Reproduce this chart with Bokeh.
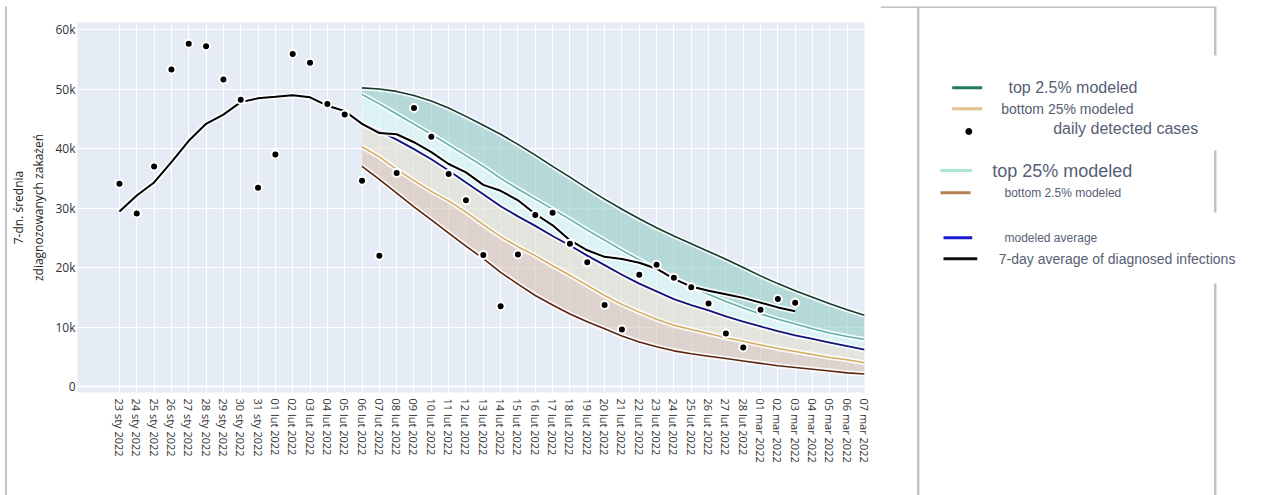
import math
from bokeh.plotting import figure
from bokeh.models import Range1d, FixedTicker, Span
from bokeh.layouts import row, column
from bokeh.embed import file_html
from bokeh.resources import INLINE
from bokeh.core.properties import value

# ---------------- data ----------------
date_labels = (
    [f"{d:02d} sty 2022" for d in range(23, 32)]
    + [f"{d:02d} lut 2022" for d in range(1, 29)]
    + [f"{d:02d} mar 2022" for d in range(1, 8)]
)

# daily detected cases, 23 sty – 03 mar
daily_cases = [34100, 29100, 37000, 53300, 57600, 57200, 51600, 48200, 33400,
               39000, 55900, 54400, 47500, 45700, 34600, 22000, 35900, 46800,
               42000, 35700, 31300, 22100, 13500, 22200, 28850, 29200, 24000,
               20900, 13700, 9600, 18800, 20450, 18300, 16700, 13950, 8900,
               6550, 12900, 14700, 14070]

# 7-day average of diagnosed infections, 23 sty – 03 mar
avg7 = [29400, 32100, 34300, 37700, 41300, 44150, 45700, 47800, 48450,
        48700, 48960, 48600, 47200, 46300, 44150, 42600, 42400, 41060,
        39400, 37400, 36000, 33900, 32900, 31300, 29000, 27100, 24600,
        22900, 21800, 21450, 20800, 19800, 18100, 16800, 16100, 15500,
        14900, 14100, 13300, 12650]

# modeled series, 06 lut – 07 mar
model_start_label = "06 lut 2022"
top_2_5 = [50200, 50000, 49600, 48900, 48000, 46800, 45400, 43900, 42400, 40700,
           38900, 37000, 35200, 33300, 31500, 29800, 28200, 26700, 25300, 24000,
           22700, 21400, 20000, 18600, 17300, 16100, 15000, 13900, 12900, 12000]
top_25 = [49100, 47500, 45800, 44100, 42400, 40600, 38800, 37000, 35000, 33200,
          31500, 29800, 28100, 26300, 24600, 22900, 21300, 19700, 18200, 16800,
          15500, 14300, 13200, 12200, 11300, 10500, 9700, 9000, 8400, 7900]
model_avg = [44200, 42900, 41500, 39900, 38200, 36300, 34300, 32300, 30300, 28600,
             27000, 25300, 23700, 22000, 20400, 18800, 17300, 16000, 14700, 13700,
             12800, 11800, 10900, 10100, 9300, 8600, 8000, 7400, 6800, 6200]
bottom_25 = [40300, 38600, 36500, 34600, 32800, 31200, 29300, 27200, 25200, 23500,
             22000, 20300, 18700, 17000, 15300, 13800, 12500, 11300, 10300, 9600,
             8900, 8200, 7600, 7000, 6400, 5900, 5400, 4900, 4500, 4000]
bottom_2_5 = [37000, 34800, 32500, 30200, 28000, 25800, 23600, 21500, 19200, 17200,
              15300, 13700, 12200, 10900, 9700, 8500, 7500, 6700, 6000, 5500,
              5100, 4700, 4300, 3900, 3500, 3200, 2900, 2600, 2300, 2100]

y_ticks = [0, 10000, 20000, 30000, 40000, 50000, 60000]
y_tick_labels = ["0", "10k", "20k", "30k", "40k", "50k", "60k"]

legend_labels = ["top 2.5% modeled", "bottom 25% modeled", "daily detected cases",
                 "top 25% modeled", "bottom 2.5% modeled", "modeled average",
                 "7-day average of diagnosed infections"]

FRAME_GRAY = "#c2c2c2"


def blank(w, h):
    f = figure(width=w, height=h, output_backend="svg", toolbar_location=None,
               x_range=Range1d(0, w), y_range=Range1d(h, 0),
               min_border=0, min_border_left=0, min_border_right=0,
               min_border_top=0, min_border_bottom=0)
    f.axis.visible = False
    f.grid.visible = False
    f.outline_line_color = None
    f.background_fill_color = "white"
    f.border_fill_color = "white"
    return f


# ---------------- border strips ----------------
left_strip = blank(7, 495)
left_strip.segment(x0=[5.5], y0=[6], x1=[5.5], y1=[495],
                   line_color=FRAME_GRAY, line_width=2)
top_strip = blank(873, 8)
top_strip.segment(x0=[0], y0=[6.5], x1=[873], y1=[6.5],
                  line_color=FRAME_GRAY, line_width=1.5)

# ---------------- main chart ----------------
x_obs = list(range(len(daily_cases)))
m0 = date_labels.index(model_start_label)
x_mod = [m0 + i for i in range(len(model_avg))]

p = figure(width=873, height=487, output_backend="svg", toolbar_location=None,
           x_range=Range1d(-2.42, len(date_labels) - 1),
           y_range=Range1d(-1000, 61180),
           min_border_left=70, min_border_right=16, min_border_top=14,
           min_border_bottom=103)
p.background_fill_color = "#e5ecf6"
p.border_fill_color = "white"
p.outline_line_color = None

# bands
p.varea(x=x_mod, y1=top_25, y2=top_2_5, fill_color="#95ccc4", fill_alpha=0.6)
p.varea(x=x_mod, y1=model_avg, y2=top_25, fill_color="#d6f6f3", fill_alpha=0.6)
p.varea(x=x_mod, y1=bottom_25, y2=model_avg, fill_color="#e3e0ce", fill_alpha=0.6)
p.varea(x=x_mod, y1=bottom_2_5, y2=bottom_25, fill_color="#d7c2b2", fill_alpha=0.6)


def halo_line(x, y, color, w):
    p.line(x, y, line_color="white", line_width=w + 3.5, line_alpha=0.85)
    p.line(x, y, line_color=color, line_width=w)


halo_line(x_mod, top_2_5, "#15392d", 1.6)
halo_line(x_mod, top_25, "#5fb0a6", 1.5)
halo_line(x_mod, bottom_2_5, "#5a240e", 1.6)
halo_line(x_mod, bottom_25, "#d2ad62", 1.5)
halo_line(x_mod, model_avg, "#12127a", 1.8)
halo_line(x_obs, avg7, "#000000", 2.0)

p.scatter(x_obs, daily_cases, size=8, fill_color="black", line_color="white",
          line_width=2)

p.add_layout(Span(location=0, dimension="width", line_color="white", line_width=2))

# axes
p.xaxis.ticker = FixedTicker(ticks=list(range(len(date_labels))))
p.xaxis.major_label_overrides = {i: lab for i, lab in enumerate(date_labels)}
p.xaxis.major_label_orientation = -math.pi / 2
p.yaxis.ticker = FixedTicker(ticks=y_ticks)
p.yaxis.major_label_overrides = {t: l for t, l in zip(y_ticks, y_tick_labels)}
for ax in (p.xaxis, p.yaxis):
    ax.axis_line_color = None
    ax.major_tick_line_color = None
    ax.minor_tick_line_color = None
    ax.major_tick_out = 0
    ax.major_tick_in = 0
    ax.minor_tick_out = 0
    ax.minor_tick_in = 0
    ax.major_label_text_font = "Open Sans"
    ax.major_label_text_color = "#333333"
p.xaxis.major_label_text_font_size = "11px"
p.xaxis.major_label_standoff = 6
p.yaxis.major_label_text_font_size = "12px"
p.yaxis.major_label_standoff = 2
p.yaxis.axis_label = "7-dn. średnia\nzdiagnozowanych zakażeń"
p.yaxis.axis_label_text_font = "Open Sans"
p.yaxis.axis_label_text_font_size = "12px"
p.yaxis.axis_label_text_font_style = "normal"
p.yaxis.axis_label_text_color = "#222222"
p.yaxis.axis_label_standoff = 5

p.xgrid.ticker = FixedTicker(ticks=list(range(len(date_labels))))
p.xgrid.grid_line_color = "white"
p.xgrid.grid_line_width = 1
p.ygrid.ticker = FixedTicker(ticks=y_ticks)
p.ygrid.grid_line_color = "white"
p.ygrid.grid_line_width = 1

# ---------------- legend panel ----------------
L = blank(400, 495)

# frame lines
L.segment(x0=[0, 37.7, 334.7, 334.7, 334.7], y0=[6.7, 6, 6, 150, 283],
          x1=[334.7, 37.7, 334.7, 334.7, 334.7], y1=[6.7, 495, 55, 212, 495],
          line_color=FRAME_GRAY, line_width=[1.5, 2.5, 2.5, 2.5, 2.5])

# legend swatches
sw_x0 = [71.7, 71.7, 60, 60, 63, 63]
sw_x1 = [101.7, 101.7, 91.7, 90, 91.7, 96.7]
sw_y = [87.3, 108.3, 170, 192.3, 237.3, 258.3]
sw_c = ["#227a62", "#e3c08e", "#a8e6d6", "#b5814f", "#1a1ad0", "#111111"]
for a, b, yy, c in zip(sw_x0, sw_x1, sw_y, sw_c):
    L.line([a, b], [yy, yy], line_color=c, line_width=3)
L.scatter([88.3], [131], size=6, color="black")

tx = [128, 120.7, 172.7, 111.7, 124, 124, 118.3]
ty = [87, 108.3, 128.3, 170, 192.3, 237.3, 258.3]
tsz = ["16px", "14px", "16px", "18px", "12px", "12px", "14px"]
for lab, xx, yy, s in zip(legend_labels, tx, ty, tsz):
    L.text(x=[xx], y=[yy], text=[lab], text_font=value("Liberation Sans"),
           text_font_size=s, text_color="#566074", text_baseline="middle",
           text_align="left")

layout = row(left_strip, column(top_strip, p, spacing=0), L, spacing=0)
open("out.html", "w").write(file_html(layout, INLINE))
